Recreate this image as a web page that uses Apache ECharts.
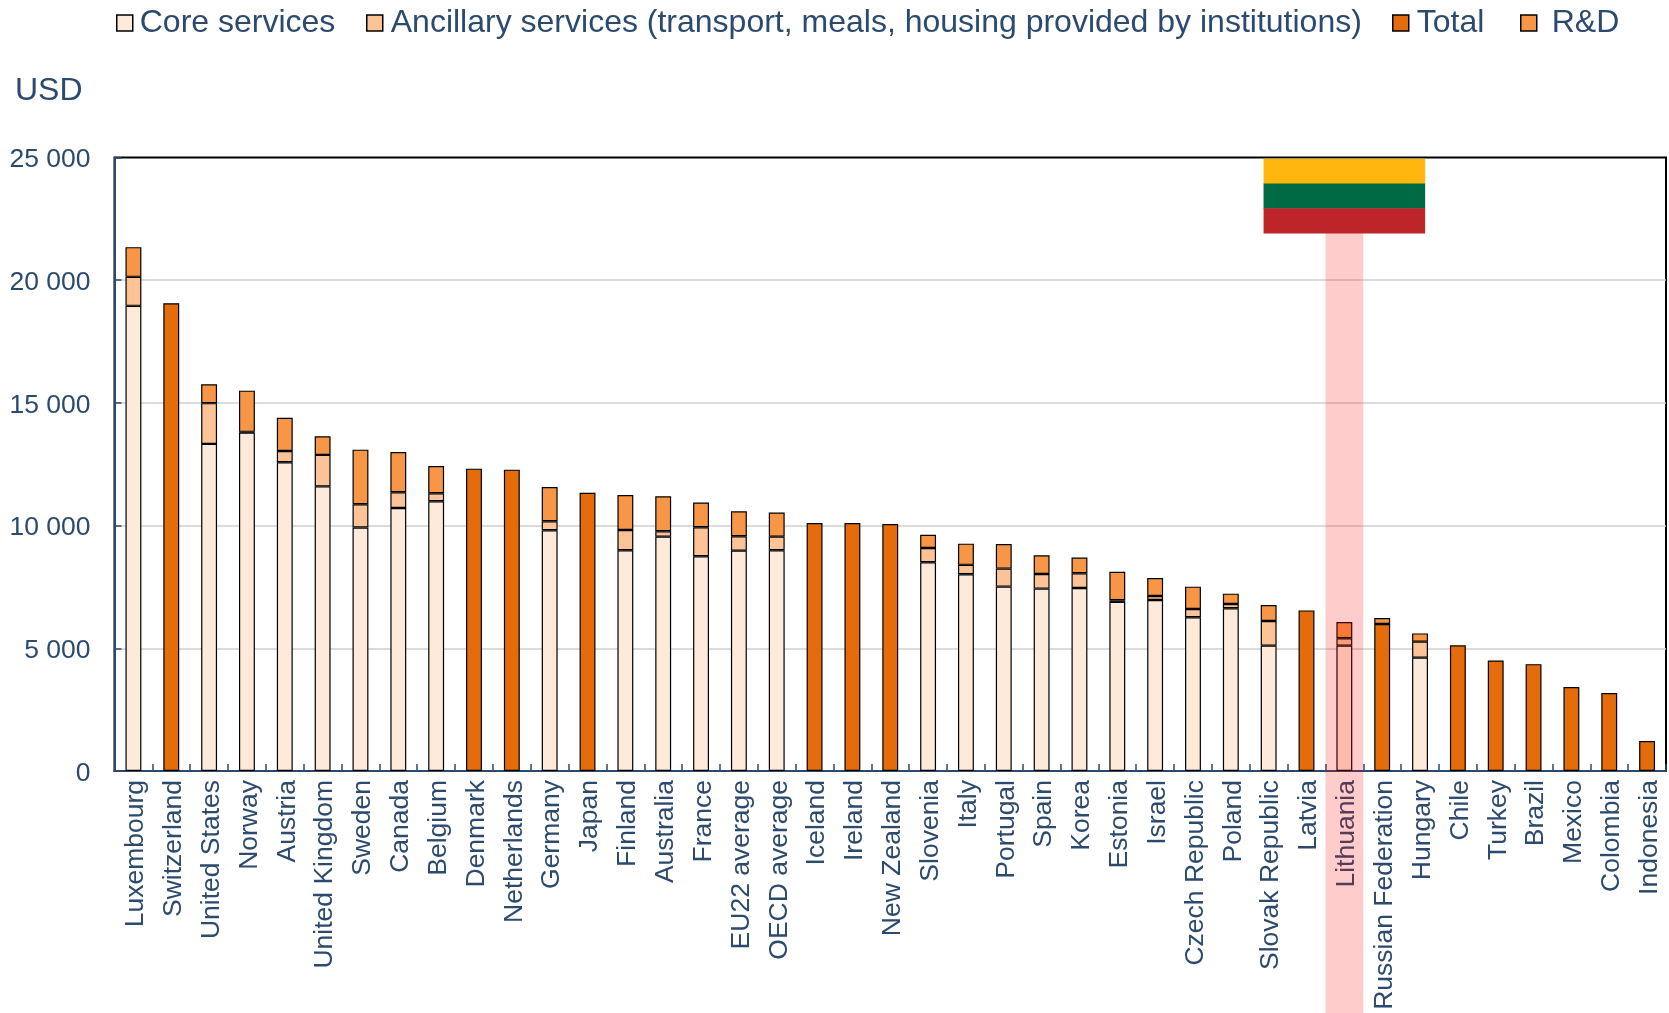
<!DOCTYPE html>
<html>
<head>
<meta charset="utf-8">
<style>html,body{margin:0;padding:0;background:#fff;overflow:hidden}#c{width:1669px;height:1013px}</style>
<script src="https://cdn.jsdelivr.net/npm/echarts@6/dist/echarts.min.js"></script>
</head>
<body>
<div id="c"></div>
<script>
const categories = ["Luxembourg","Switzerland","United States","Norway","Austria","United Kingdom","Sweden","Canada","Belgium","Denmark","Netherlands","Germany","Japan","Finland","Australia","France","EU22 average","OECD average","Iceland","Ireland","New Zealand","Slovenia","Italy","Portugal","Spain","Korea","Estonia","Israel","Czech Republic","Poland","Slovak Republic","Latvia","Lithuania","Russian Federation","Hungary","Chile","Turkey","Brazil","Mexico","Colombia","Indonesia"];
const coreServices = [18954,null,13330,13790,12580,11600,9920,10720,10990,null,null,9810,null,8995,9550,8750,8980,8995,null,null,null,8505,8015,7514,7432,7460,6890,6970,6264,6630,5109,null,5109,null,4620,null,null,null,null,null,null];
const ancillaryServices = [1182,null,1660,30,460,1280,950,640,330,null,null,370,null,828,220,1180,585,555,null,null,null,585,385,733,598,597,66,163,339,177,1005,null,299,null,652,null,null,null,null,null,null];
const totalOnly = [null,19060,null,null,null,null,null,null,null,12320,12280,null,11340,null,null,null,null,null,10105,10105,10065,null,null,null,null,null,null,null,null,null,null,6545,null,5992,null,5120,4505,4355,3420,3175,1220];
const rnd = [1210,null,770,1680,1350,760,2225,1640,1110,null,null,1395,null,1425,1425,1010,1015,980,null,null,null,540,865,1005,760,638,1165,733,910,420,650,null,660,240,335,null,null,null,null,null,null];
const yTickLabels = ["0","5 000","10 000","15 000","20 000","25 000"];
const highlightCountry = ["Lithuania"];

const navy = "#2C4A6E";
const font = "Liberation Sans";
function barSeries(name, data, color) {
  return {name, type:"bar", stack:"s", data, barWidth:"42%",
    itemStyle:{color, borderColor:"#000", borderWidth:1.2}};
}
function legendAt(name, left, gap) {
  return {data:[name], left, top:7, padding:0, itemWidth:16, itemHeight:16, itemGap:0, icon:"rect", selectedMode:false,
    itemStyle:{borderColor:"#000", borderWidth:1.5},
    textStyle:{fontFamily:font, fontSize:32, color:navy, padding:[0,0,0,gap]}};
}
const shifted = (fontSize) => ({a:{fontFamily:font, fontSize, color:navy, padding:[5,0,0,0]}});
const chart = echarts.init(document.getElementById("c"), null, {renderer:"canvas"});
chart.setOption({
  animation:false,
  backgroundColor:"#fff",
  title:{text:"USD", left:15, top:75, padding:0, textStyle:{fontFamily:font, fontSize:32, fontWeight:"normal", color:navy}},
  legend:[legendAt("Core services",116,2),legendAt("Ancillary services (transport, meals, housing provided by institutions)",366,3),legendAt("Total",1392,3),legendAt("R&D",1520,10)],
  grid:{left:114.5, right:3, top:157.5, bottom:242, show:true, borderColor:"#000", borderWidth:2, backgroundColor:"transparent"},
  xAxis:{type:"category", data:categories,
    axisLine:{onZero:false, lineStyle:{color:navy, width:2}},
    axisTick:{show:true, inside:true, length:7, alignWithLabel:false, lineStyle:{color:navy, width:1.5}},
    axisLabel:{interval:0, rotate:90, margin:9, fontFamily:font, fontSize:26.5, color:navy, hideOverlap:false,
      formatter:(v)=>`{a|${v}}`, rich:shifted(26.5)}},
  yAxis:{type:"value", min:0, max:25000, interval:5000,
    axisLine:{show:true, lineStyle:{color:navy, width:2}},
    axisTick:{show:true, inside:true, length:7, lineStyle:{color:navy, width:1.5}},
    splitLine:{show:true, showMaxLine:false, lineStyle:{color:"#CFCFCF", width:1.5}},
    axisLabel:{margin:24, fontFamily:font, fontSize:26.5, color:navy,
      formatter:(v)=>`{a|${yTickLabels[v/5000]}}`, rich:shifted(26.5)}},
  series:[
    barSeries("Core services", coreServices, "#FDEADA"),
    barSeries("Ancillary services (transport, meals, housing provided by institutions)", ancillaryServices, "#FCC496"),
    barSeries("Total", totalOnly, "#E46C0A"),
    barSeries("R&D", rnd, "#F79646"),
    {type:"custom", name:"highlight", coordinateSystem:"cartesian2d", clip:false, z:20, silent:true,
     data:highlightCountry.map(c=>[c,25000]),
     encode:{x:0,y:1},
     renderItem(params, api){
       const p = api.coord([api.value(0), api.value(1)]);
       const band = api.size([1,0])[0];
       const unit = api.size([0,1])[1];
       const fw = band*4.27, sh = unit*1008;
       const left = p[0]-fw/2, top = p[1]+1.2;
       const stripes = ["#FFB70F","#006A44","#BE252B"];
       const rects = stripes.map((fill,i)=>({type:"rect",shape:{x:left,y:top+i*sh,width:fw,height:sh+0.5},style:{fill}}));
       rects.unshift({type:"rect",shape:{x:p[0]-band/2,y:top+3*sh,width:band,height:1013-top-3*sh},style:{fill:"rgba(255,0,0,0.2)"}});
       return {type:"group",children:rects};
     }}
  ]
});
</script>
</body>
</html>
